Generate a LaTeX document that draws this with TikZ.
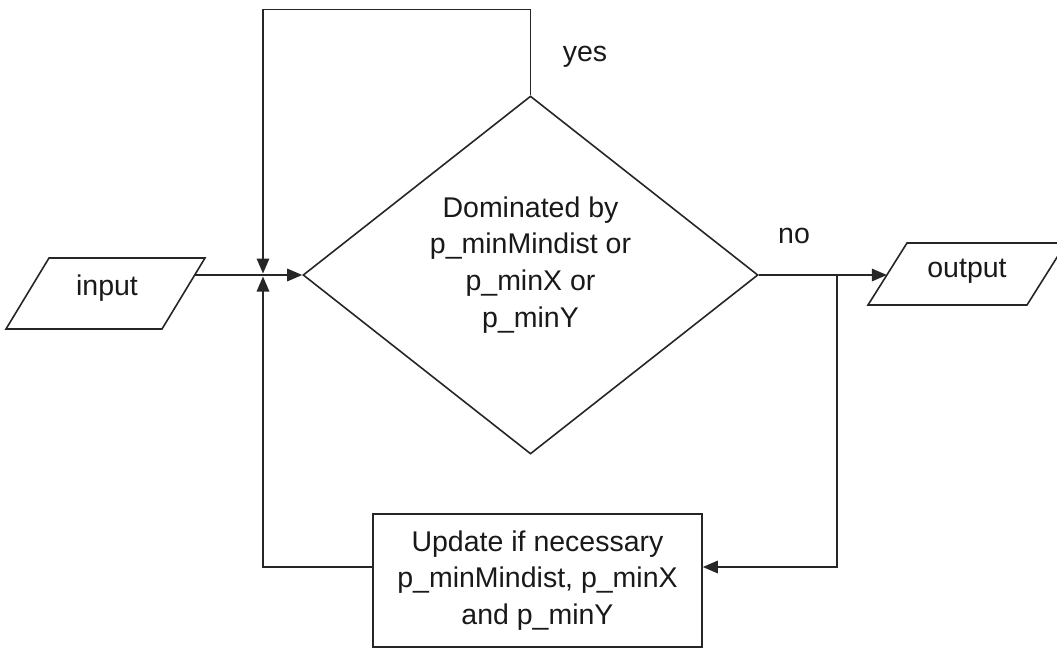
\documentclass[tikz,border=0pt]{standalone}
\usepackage{fontspec}
\setmainfont{Liberation Sans}
\usetikzlibrary{arrows.meta,shapes.geometric,calc}
\begin{document}
\begin{tikzpicture}[x=1pt,y=-1pt,
  line/.style={line width=1.6pt, draw=black!85},
  flow/.style={line, -{Triangle[length=15pt,width=12.5pt]}},
  txt/.style={font=\fontsize{28.5}{36.7}\selectfont, inner sep=0pt, text=black!90},
  decision/.style={diamond, line, inner sep=0pt, minimum width=455pt, minimum height=358pt},
  process/.style={rectangle, line, txt, align=center, minimum width=329pt, minimum height=133pt}
]
\useasboundingbox (0,0) rectangle (1057,648);

% decision diamond and its text
\node[decision] (dec) at (530.5,275) {};
\node[txt, align=center] (dtext) at (530.5,264.7)
  {Dominated by\\p\_minMindist or\\p\_minX or\\p\_minY};

% input parallelogram
\coordinate (iTL) at (49,258);
\coordinate (iTR) at (205,258);
\coordinate (iBR) at (162,329);
\coordinate (iBL) at (6,329);
\draw[line] (iTL) -- (iTR) -- (iBR) -- (iBL) -- cycle;
\node[txt, anchor=base] (inp) at (107,295) {input};

% output parallelogram
\coordinate (oTL) at (907,243);
\coordinate (oTR) at (1066,243);
\coordinate (oBR) at (1027,305);
\coordinate (oBL) at (868,305);
\draw[line] (oTL) -- (oTR) -- (oBR) -- (oBL) -- cycle;
\node[txt, anchor=base] (outp) at (967,277) {output};

% update box
\node[process] (upd) at (537.5,580.5)
  {Update if necessary\\p\_minMindist, p\_minX\\and p\_minY};

% junction points
\coordinate (inOut) at ($(iTR)!0.2394!(iBR)$);
\coordinate (outIn) at ($(oTL)!0.5161!(oBL)$);
\coordinate (jTop) at (263,273.5);
\coordinate (jBot) at (263,276.5);
\coordinate (topY) at (530.5,9.5);
\coordinate (br) at (837,275);

% connectors
\draw[flow] (inOut) -- (dec.west);
\draw[flow] (dec.north) -- (topY) -| (jTop);
\draw[flow] (dec.east) -- (outIn);
\draw[flow] (br) |- ([yshift=13.5pt]upd.east);
\draw[flow] ([yshift=13.5pt]upd.west) -| (jBot);

% branch labels
\node[txt, anchor=base] (yes) at (585,61) {yes};
\node[txt, anchor=base] (no) at (794,243) {no};
\end{tikzpicture}
\end{document}
